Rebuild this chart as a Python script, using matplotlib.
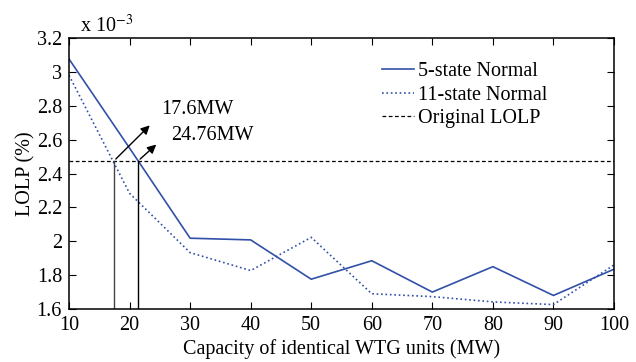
import numpy as np
import matplotlib
matplotlib.use("Agg")
import matplotlib.pyplot as plt

plt.rcParams['font.family'] = ['Liberation Serif', 'DejaVu Serif']
plt.rcParams['mathtext.fontset'] = 'stix'

# capacity of identical WTG units (MW) and LOLP values (x 1e-3 %)
capacity = [10, 20, 30, 40, 50, 60, 70, 80, 90, 100]
lolp_5state = [3.076, 2.55, 2.018, 2.008, 1.776, 1.885, 1.70, 1.85, 1.68, 1.835]
lolp_11state = [2.98, 2.283, 1.933, 1.827, 2.023, 1.69, 1.673, 1.642, 1.626, 1.86]
original_lolp = 2.474
crossing_mw = [17.4, 21.4]
crossing_labels = ['17.6MW', '24.76MW']

blue = '#3150a8'
fs = 14.5

fig = plt.figure(figsize=(6.36, 3.62), dpi=100)
ax = fig.add_axes([0.1085, 0.1464, 0.8569, 0.7486])

ax.plot(capacity, lolp_5state, '-', color=blue, lw=1.2, label='5-state Normal')
ax.plot(capacity, lolp_11state, ':', color=blue, lw=1.2, label='11-state Normal')
ax.axhline(original_lolp, color='black', ls='--', lw=0.9, dashes=(3, 2), label='Original LOLP')

# vertical markers where the curves cross the original LOLP
ax.plot([crossing_mw[0]] * 2, [1.6, original_lolp], color='#444444', lw=1.0)
ax.plot([crossing_mw[1]] * 2, [1.6, original_lolp], color='black', lw=1.0)

ax.annotate('', xy=(23.66, 2.696), xytext=(crossing_mw[0], original_lolp),
            arrowprops=dict(arrowstyle='-|>', color='black', lw=1.0, mutation_scale=13))
ax.annotate('', xy=(24.75, 2.582), xytext=(crossing_mw[1], original_lolp),
            arrowprops=dict(arrowstyle='-|>', color='black', lw=1.0, mutation_scale=13))
ax.text(25.2, 2.775, crossing_labels[0], fontsize=fs, va='center')
ax.text(26.8, 2.627, crossing_labels[1], fontsize=fs, va='center')

ax.set_xlim(10, 100)
ax.set_ylim(1.6, 3.2)
ax.set_xticks(np.arange(10, 101, 10))
ax.set_yticks([1.6, 1.8, 2.0, 2.2, 2.4, 2.6, 2.8, 3.0, 3.2])
ax.set_yticklabels(['1.6', '1.8', '2', '2.2', '2.4', '2.6', '2.8', '3', '3.2'])
ax.tick_params(direction='in', top=True, right=True, labelsize=fs, length=5)
ax.tick_params(axis='x', pad=5)
ax.tick_params(axis='y', pad=5)
for s in ax.spines.values():
    s.set_linewidth(1.1)

ax.set_xlabel('Capacity of identical WTG units (MW)', fontsize=fs, labelpad=3)
ax.set_ylabel('LOLP (%)', fontsize=fs, labelpad=1)
fig.text(0.126, 0.912, r'x 10$^{-3}$', fontsize=fs)

ax.legend(loc='upper left', bbox_to_anchor=(0.574, 0.91), frameon=False, fontsize=fs,
          handlelength=1.6, handletextpad=0.2, labelspacing=0.2, borderaxespad=0,
          borderpad=0)

fig.savefig('out.png', dpi=100)
